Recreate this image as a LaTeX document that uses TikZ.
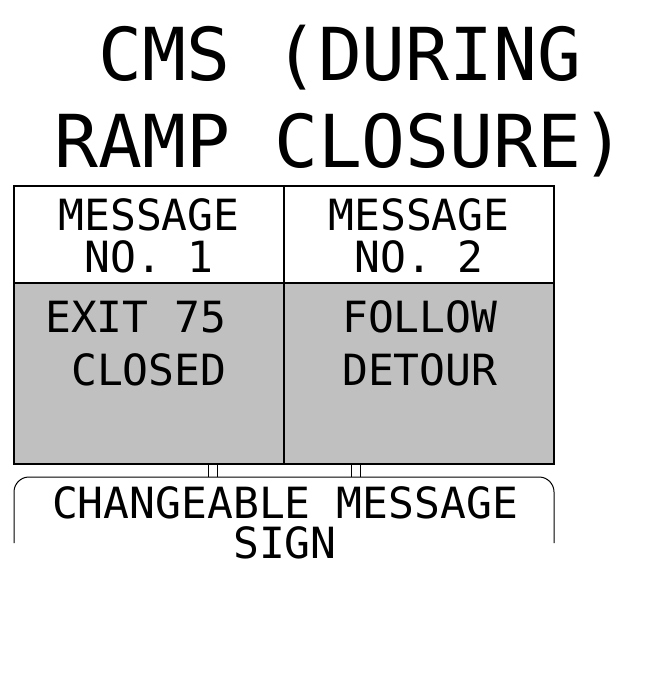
\documentclass[tikz,border=0pt]{standalone}
\usepackage{fontspec}
\newfontfamily\cmsfont{DejaVu Sans Mono}
\definecolor{panelgray}{HTML}{C0C0C0}
\begin{document}
\begin{tikzpicture}[x=1pt,y=-1pt,
  titletext/.style={inner sep=0pt,anchor=base,font=\cmsfont\fontsize{73}{80}\selectfont},
  msgtext/.style={inner sep=0pt,font=\cmsfont\fontsize{43}{48}\selectfont},
  frame/.style={draw=black,line width=1.3pt},
  post/.style={draw=black,line width=1pt}]
\useasboundingbox (0,0) rectangle (654,699);
% title
\node[titletext] (t1) at (340,80) {CMS (DURING};
\node[titletext] (t2) at (340,167) {RAMP CLOSURE)};
% panel
\fill[panelgray] (14,283) rectangle (554,464);
\draw[frame] (14,186) rectangle (554,464);
\draw[frame] (14,283) -- (554,283);
\draw[frame] (284,186) -- (284,464);
% headings
\node[msgtext,anchor=base] (h1a) at (149,230) {MESSAGE};
\node[msgtext,anchor=base] (h1b) at (149,272) {NO. 1};
\node[msgtext,anchor=base] (h2a) at (419,230) {MESSAGE};
\node[msgtext,anchor=base] (h2b) at (419,272) {NO. 2};
% messages
\node[msgtext,anchor=base west] (m1a) at (45,332) {EXIT 75};
\node[msgtext,anchor=base west] (m1b) at (71,385) {CLOSED};
\node[msgtext,anchor=base west] (m2a) at (342,332) {FOLLOW};
\node[msgtext,anchor=base west] (m2b) at (342,385) {DETOUR};
% posts
\draw[post] (208,464) -- (208,477);
\draw[post] (217,464) -- (217,477);
\draw[post] (351,464) -- (351,477);
\draw[post] (360,464) -- (360,477);
% sign outline
\draw[post,rounded corners=15pt] (14,543) -- (14,477) -- (554,477) -- (554,543);
\node[msgtext,anchor=base] (s1) at (285,518) {CHANGEABLE MESSAGE};
\node[msgtext,anchor=base] (s2) at (285,558) {SIGN};
\end{tikzpicture}
\end{document}
